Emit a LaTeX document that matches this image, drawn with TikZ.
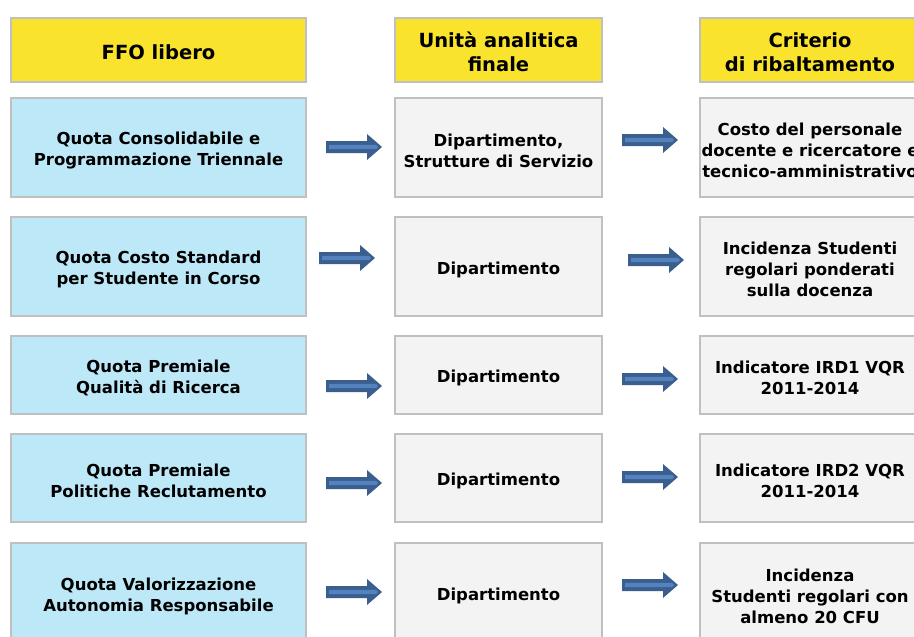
\documentclass[tikz,border=0pt]{standalone}
\usepackage{fontspec}
\setmainfont{DejaVu Sans}
\definecolor{yel}{RGB}{250,227,45}
\definecolor{lblue}{RGB}{189,232,248}
\definecolor{lgray}{RGB}{243,243,243}
\definecolor{bord}{RGB}{192,192,192}
\definecolor{adark}{RGB}{58,95,142}
\definecolor{alight}{RGB}{84,130,190}
\newcommand\tup{\rule{0pt}{18.5pt}}
\newcommand\hup{\rule{0pt}{19.5pt}}
\newcommand\myblockarrow[2]{%
  \fill[adark]
    (#1,#2-6) -- ++(41,0) -- ++(0,-7) -- ++(15,13) -- ++(-15,13) -- ++(0,-7) -- ++(-41,0) -- cycle;
  \fill[alight] (#1+3,#2-2.2) -- ++(47,0) -- ++(2,2.2) -- ++(-2,2.2) -- ++(-47,0) -- cycle;}
\begin{document}
\begin{tikzpicture}[x=1pt,y=-1pt,
  box/.style={draw=bord,line width=2.6pt,align=center,inner sep=0pt,
    font=\bfseries\fontsize{16.5}{21}\selectfont},
  hdr/.style={box,fill=yel,font=\bfseries\fontsize{19.5}{24}\selectfont},
  ffo/.style={box,fill=lblue},
  unit/.style={box,fill=lgray},
  c1/.style={minimum width=295pt},
  c2/.style={minimum width=207pt},
  c3/.style={minimum width=220pt}]
\useasboundingbox (0,0) rectangle (914,637);
\fill[white] (0,0) rectangle (914,637);
\begin{scope}
\clip (0,0) rectangle (914,637);
% headers
\node[hdr,c1,minimum height=64pt] (h1) at (158.5,50) {\hup FFO libero};
\node[hdr,c2,minimum height=64pt] (h2) at (498.5,50) {\hup Unità analitica\\finale};
\node[hdr,c3,minimum height=64pt] (h3) at (810,50) {\hup Criterio\\di ribaltamento};
% row 1
\node[ffo,c1,minimum height=99pt] (a1) at (158.5,147.5) {\tup Quota Consolidabile e\\Programmazione Triennale};
\node[unit,c2,minimum height=99pt] (b1) at (498.5,147.5) {\tup Dipartimento,\\Strutture di Servizio};
\node[unit,c3,minimum height=99pt] (d1) at (810,147.5) {\tup Costo del personale\\docente e ricercatore e\\tecnico-amministrativo};
% row 2
\node[ffo,c1,minimum height=99pt] (a2) at (158.5,266.5) {\tup Quota Costo Standard\\per Studente in Corso};
\node[unit,c2,minimum height=99pt] (b2) at (498.5,266.5) {\tup Dipartimento};
\node[unit,c3,minimum height=99pt] (d2) at (810,266.5) {\tup Incidenza Studenti\\regolari ponderati\\sulla docenza};
% row 3
\node[ffo,c1,minimum height=78pt] (a3) at (158.5,375) {\tup Quota Premiale\\Qualità di Ricerca};
\node[unit,c2,minimum height=78pt] (b3) at (498.5,375) {\tup Dipartimento};
\node[unit,c3,minimum height=78pt] (d3) at (810,375) {\tup Indicatore IRD1 VQR\\2011-2014};
% row 4
\node[ffo,c1,minimum height=88pt] (a4) at (158.5,478) {\tup Quota Premiale\\Politiche Reclutamento};
\node[unit,c2,minimum height=88pt] (b4) at (498.5,478) {\tup Dipartimento};
\node[unit,c3,minimum height=88pt] (d4) at (810,478) {\tup Indicatore IRD2 VQR\\2011-2014};
% row 5
\node[ffo,c1,minimum height=100pt] (a5) at (158.5,593) {\tup Quota Valorizzazione\\Autonomia Responsabile};
\node[unit,c2,minimum height=100pt] (b5) at (498.5,593) {\tup Dipartimento};
\node[unit,c3,minimum height=100pt] (d5) at (810,593) {\tup Incidenza\\Studenti regolari con\\almeno 20 CFU};
% arrows
\myblockarrow{326}{147}\myblockarrow{622}{140}
\myblockarrow{319}{258}\myblockarrow{628}{260}
\myblockarrow{326}{386}\myblockarrow{622}{379}
\myblockarrow{326}{483}\myblockarrow{622}{477}
\myblockarrow{326}{592}\myblockarrow{622}{585}
\end{scope}
\end{tikzpicture}
\end{document}
